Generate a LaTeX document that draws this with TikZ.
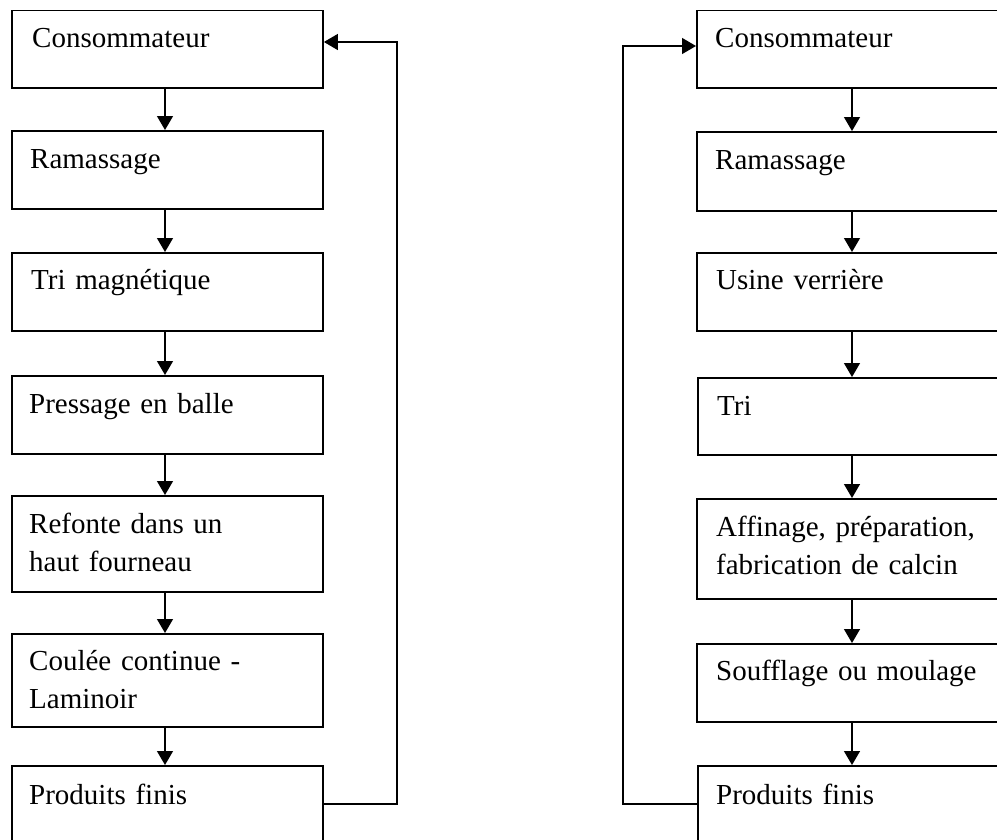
\documentclass[tikz,border=0pt]{standalone}
\usepackage{fontspec}
\setmainfont{Liberation Serif}
\usetikzlibrary{arrows.meta,calc}
\begin{document}
\begin{tikzpicture}[x=1pt,y=-1pt,
 box/.style={draw,line width=1.9pt,rectangle,anchor=north west,inner sep=0pt},
 lbl/.style={anchor=base west,inner sep=0pt,font=\fontsize{29}{38.5}\selectfont,align=left,text width=300pt},
 arr/.style={line width=1.4pt,-{Triangle[width=16pt,length=14pt]}},
 link/.style={line width=1.4pt}]
\useasboundingbox (0,0) rectangle (997,839);
\clip (0,0) rectangle (997,839);
% left column
\node[box,minimum width=311pt,minimum height=77.5pt] (L1) at (11,9.5) {};
\node[box,minimum width=311pt,minimum height=78pt] (L2) at (11,130) {};
\node[box,minimum width=311pt,minimum height=78pt] (L3) at (11,252) {};
\node[box,minimum width=311pt,minimum height=78pt] (L4) at (11,375) {};
\node[box,minimum width=311pt,minimum height=96pt] (L5) at (11,495) {};
\node[box,minimum width=311pt,minimum height=93pt] (L6) at (11,633) {};
\node[box,minimum width=311pt,minimum height=95pt] (L7) at (11,765) {};
\node[lbl] (L1t) at ($(L1.north west)+(21,38)$) {Consommateur};
\node[lbl] (L2t) at ($(L2.north west)+(19,38)$) {Ramassage};
\node[lbl] (L3t) at ($(L3.north west)+(20,37)$) {Tri magnétique};
\node[lbl] (L4t) at ($(L4.north west)+(18,38)$) {Pressage en balle};
\node[lbl] (L5t) at ($(L5.north west)+(18,38)$) {Refonte dans un\\haut fourneau};
\node[lbl] (L6t) at ($(L6.north west)+(18,37)$) {Coulée continue -\\Laminoir};
\node[lbl] (L7t) at ($(L7.north west)+(18,39)$) {Produits finis};
\coordinate (xL) at (165,0);
\foreach \a/\b in {L1/L2,L2/L3,L3/L4,L4/L5,L5/L6,L6/L7}
  \draw[arr] (\a.south -| xL) -- (\b.north -| xL);
\coordinate (fLtop) at (397,42);
\coordinate (fLbot) at (397,804);
\draw[arr] (L7.east |- fLbot) -- (fLbot) -- (fLtop) -- (L1.east |- fLtop);
% right column
\node[box,minimum width=320pt,minimum height=77.5pt] (R1) at (696,9.5) {};
\node[box,minimum width=320pt,minimum height=79pt] (R2) at (696,131) {};
\node[box,minimum width=320pt,minimum height=78pt] (R3) at (696,252) {};
\node[box,minimum width=320pt,minimum height=77pt] (R4) at (697,377) {};
\node[box,minimum width=320pt,minimum height=100pt] (R5) at (696,498) {};
\node[box,minimum width=320pt,minimum height=78pt] (R6) at (696,643) {};
\node[box,minimum width=320pt,minimum height=95pt] (R7) at (697,765) {};
\node[lbl] (R1t) at ($(R1.north west)+(19,38)$) {Consommateur};
\node[lbl] (R2t) at ($(R2.north west)+(19,38)$) {Ramassage};
\node[lbl] (R3t) at ($(R3.north west)+(20,37)$) {Usine verrière};
\node[lbl] (R4t) at ($(R4.north west)+(20,38)$) {Tri};
\node[lbl] (R5t) at ($(R5.north west)+(20,38)$) {Affinage, préparation,\\fabrication de calcin};
\node[lbl] (R6t) at ($(R6.north west)+(20,37)$) {Soufflage ou moulage};
\node[lbl] (R7t) at ($(R7.north west)+(19,39)$) {Produits finis};
\coordinate (xR) at (852,0);
\foreach \a/\b in {R1/R2,R2/R3,R3/R4,R4/R5,R5/R6,R6/R7}
  \draw[arr] (\a.south -| xR) -- (\b.north -| xR);
\coordinate (fRtop) at (623,46);
\coordinate (fRbot) at (623,804);
\draw[arr] (R7.west |- fRbot) -- (fRbot) -- (fRtop) -- (R1.west |- fRtop);
\end{tikzpicture}
\end{document}
